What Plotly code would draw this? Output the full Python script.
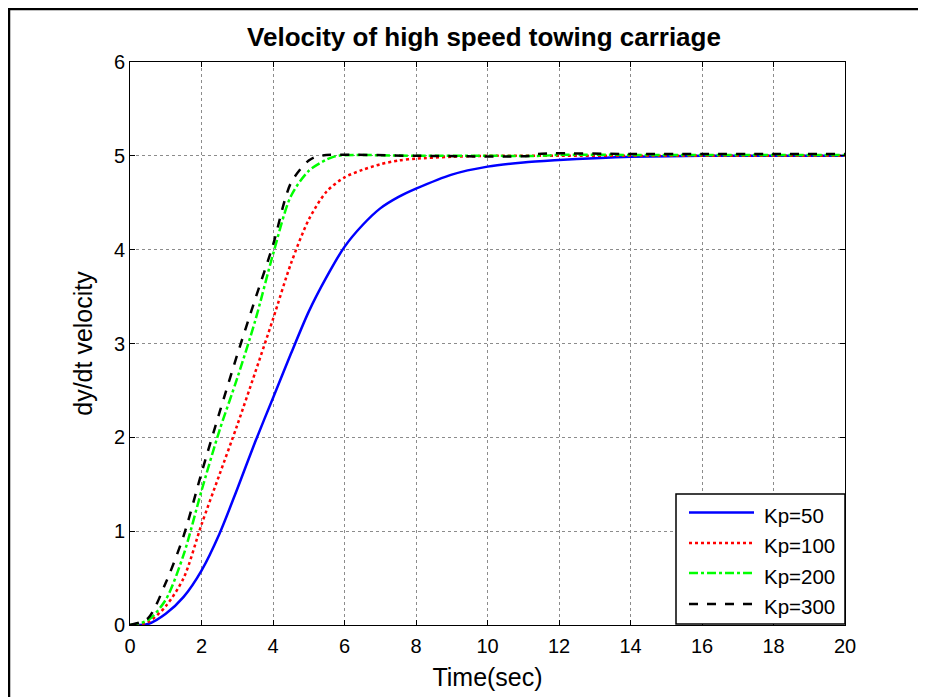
import plotly.graph_objects as go

# ---- data ----
t_kp50 = [0, 0.5, 1, 1.5, 2, 2.5, 3, 3.5, 4, 4.5, 5, 5.5, 6, 6.5, 7, 7.5, 8, 9, 10, 11, 12, 13, 14, 16, 18, 20]
v_kp50 = [0, 0.01, 0.12, 0.30, 0.58, 0.97, 1.45, 1.95, 2.42, 2.89, 3.34, 3.71, 4.03, 4.26, 4.44, 4.56, 4.65, 4.80, 4.885, 4.93, 4.955, 4.975, 4.99, 5.0, 5.0, 5.0]

t_kp100 = [0, 0.5, 1, 1.5, 2, 2.5, 3, 3.5, 4, 4.5, 5, 5.5, 6, 6.5, 7, 7.5, 8, 9, 10, 12, 14, 16, 18, 20]
v_kp100 = [0, 0.03, 0.20, 0.50, 1.07, 1.60, 2.13, 2.69, 3.26, 3.85, 4.32, 4.62, 4.77, 4.85, 4.91, 4.95, 4.97, 4.99, 5.0, 5.0, 5.0, 5.0, 5.0, 5.0]

t_kp200 = [0, 0.5, 1, 1.5, 2, 2.5, 3, 3.5, 4, 4.5, 5, 5.5, 5.8, 8, 10, 11.5, 12, 14, 16, 18, 20]
v_kp200 = [0, 0.05, 0.27, 0.75, 1.43, 2.07, 2.63, 3.24, 3.95, 4.57, 4.84, 4.96, 5.0, 5.0, 5.0, 5.0, 5.01, 5.01, 5.01, 5.01, 5.01]

t_kp300 = [0, 0.5, 1, 1.5, 2, 2.5, 3, 3.5, 4, 4.5, 5, 5.3, 8, 11.2, 11.4, 14, 16, 18, 20]
v_kp300 = [0, 0.07, 0.45, 0.95, 1.62, 2.26, 2.88, 3.47, 4.05, 4.71, 4.95, 5.0, 5.0, 5.0, 5.02, 5.02, 5.02, 5.02, 5.02]

series_names = ["Kp=50", "Kp=100", "Kp=200", "Kp=300"]
series_t = [t_kp50, t_kp100, t_kp200, t_kp300]
series_v = [v_kp50, v_kp100, v_kp200, v_kp300]

x_ticks = [0, 2, 4, 6, 8, 10, 12, 14, 16, 18, 20]
y_ticks = [0, 1, 2, 3, 4, 5, 6]

FONT = "Liberation Sans, Arial, Helvetica, sans-serif"
colors = ["#0000ff", "#ff0000", "#00ff00", "#000000"]
dashes = ["solid", "dot", "dashdot", "dash"]

# plot area in screen pixels (page has an 8px body margin)
PX0, PX1, PY0, PY1 = 130, 845, 62, 625
def px(X):
    return (X - PX0) / (PX1 - PX0)
def py(Y):
    return (PY1 - Y) / (PY1 - PY0)

fig = go.Figure()
for name, t, v, c, d in zip(series_names, series_t, series_v, colors, dashes):
    fig.add_trace(go.Scatter(x=t, y=v, mode="lines", name=name, showlegend=False,
                             line=dict(color=c, dash=d, width=2.5, shape="spline", smoothing=0.8)))

axis_common = dict(
    showline=True, linecolor="black", linewidth=1, mirror="ticks",
    ticks="inside", ticklen=5, tickcolor="black", tickwidth=1,
    showgrid=True, gridcolor="#8c8c8c", griddash="dot", gridwidth=1,
    zeroline=False, tickfont=dict(family=FONT, size=20, color="black"),
)

fig.update_xaxes(range=[0, 20], tickvals=x_ticks, ticktext=[str(v) for v in x_ticks],
                 ticklabelstandoff=3,
                 title=dict(text="Time(sec)", font=dict(family=FONT, size=25, color="black"), standoff=12),
                 **axis_common)
fig.update_yaxes(range=[0, 6], tickvals=y_ticks, ticktext=[str(v) for v in y_ticks],
                 title=dict(text="dy/dt velocity", font=dict(family=FONT, size=25, color="black"), standoff=14),
                 **axis_common)

# manual MATLAB-style legend
shapes = [
    dict(type="rect", xref="paper", yref="paper",
         x0=px(9), x1=px(921), y0=py(720), y1=py(9),
         line=dict(color="black", width=2.5), fillcolor="rgba(0,0,0,0)", layer="below"),
    dict(type="rect", xref="paper", yref="paper",
         x0=px(676), x1=px(845), y0=py(624), y1=py(494),
         line=dict(color="black", width=1.5), fillcolor="white", layer="above"),
]
annotations = []
row_line_y = [512.5, 543, 573, 604]
row_text_y = [515, 545, 576.5, 606.5]
for i, name in enumerate(series_names):
    shapes.append(dict(type="line", xref="paper", yref="paper",
                       x0=px(689), x1=px(754), y0=py(row_line_y[i]), y1=py(row_line_y[i]),
                       line=dict(color=colors[i], dash=dashes[i], width=2.5), layer="above"))
    annotations.append(dict(text=name, xref="paper", yref="paper", x=px(762), y=py(row_text_y[i]),
                            xanchor="left", yanchor="middle", showarrow=False,
                            font=dict(family=FONT, size=20.5, color="black")))

fig.update_layout(
    width=918, height=689,
    margin=dict(l=122, r=81, t=54, b=72, autoexpand=False),
    paper_bgcolor="white", plot_bgcolor="white",
    title=dict(text="<b>Velocity of high speed towing carriage</b>", x=px(484) * 715 / 918 + 122 / 918,
               xanchor="center", y=1 - 29 / 689, yanchor="middle",
               font=dict(family=FONT, size=26, color="black")),
    shapes=shapes,
    annotations=annotations,
    showlegend=False,
)

fig.write_html("out.html")
